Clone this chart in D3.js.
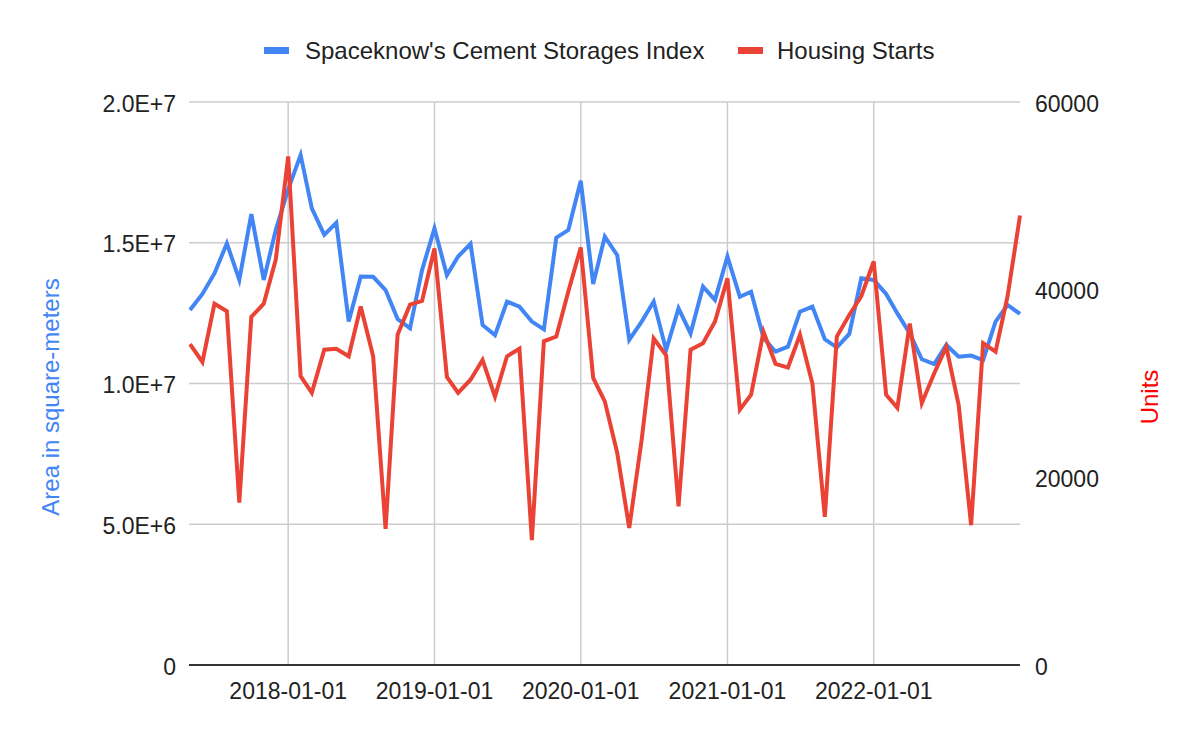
<!DOCTYPE html>
<html>
<head>
<meta charset="utf-8">
<script src="https://cdn.jsdelivr.net/npm/d3@7"></script>
<style>
  html, body { margin: 0; padding: 0; background: #fff; }
  svg { display: block; }
  text { font-family: Arial, "Liberation Sans", sans-serif; }
</style>
</head>
<body>
<svg id="chart" width="1200" height="742"></svg>
<script>
const months = [
  "2017-05","2017-06","2017-07","2017-08","2017-09","2017-10","2017-11","2017-12",
  "2018-01","2018-02","2018-03","2018-04","2018-05","2018-06","2018-07","2018-08","2018-09","2018-10","2018-11","2018-12",
  "2019-01","2019-02","2019-03","2019-04","2019-05","2019-06","2019-07","2019-08","2019-09","2019-10","2019-11","2019-12",
  "2020-01","2020-02","2020-03","2020-04","2020-05","2020-06","2020-07","2020-08","2020-09","2020-10","2020-11","2020-12",
  "2021-01","2021-02","2021-03","2021-04","2021-05","2021-06","2021-07","2021-08","2021-09","2021-10","2021-11","2021-12",
  "2022-01","2022-02","2022-03","2022-04","2022-05","2022-06","2022-07","2022-08","2022-09","2022-10","2022-11","2022-12",
  "2023-01"
];

const cementIndex = [
  12610000,13180000,13910000,14980000,13680000,16020000,13680000,15450000,
  16900000,18120000,16220000,15280000,15710000,12200000,13800000,13790000,13320000,12290000,11960000,14030000,
  15510000,13850000,14510000,14960000,12080000,11720000,12910000,12730000,12200000,11920000,15180000,15450000,
  17200000,13530000,15220000,14560000,11550000,12200000,12910000,11190000,12670000,11780000,13440000,12970000,
  14510000,13080000,13260000,11620000,11130000,11310000,12550000,12730000,11570000,11280000,11760000,13740000,
  13680000,13180000,12490000,11780000,10860000,10690000,11370000,10950000,10990000,10830000,12200000,12790000,
  12470000
];

const housingStarts = [
  34200,32300,38500,37700,17300,37100,38500,43200,
  54200,30800,29000,33600,33700,32900,38200,32900,14500,35200,38400,38800,
  44400,30700,29000,30400,32500,28600,32900,33700,13300,34500,35000,39800,
  44500,30600,28100,22600,14600,24000,34800,33000,16900,33600,34300,36600,
  41200,27200,28800,35500,32100,31700,35200,30000,15800,35000,37300,39300,
  43000,28800,27400,36400,27900,31100,33900,27700,14900,34300,33400,39300,
  47900
];

const leftTicks = [0, 5000000, 10000000, 15000000, 20000000];
const leftTickLabels = ["0", "5.0E+6", "1.0E+7", "1.5E+7", "2.0E+7"];
const rightTicks = [0, 20000, 40000, 60000];
const rightTickLabels = ["0", "20000", "40000", "60000"];
const xTickLabels = ["2018-01-01", "2019-01-01", "2020-01-01", "2021-01-01", "2022-01-01"];
const seriesNames = ["Spaceknow's Cement Storages Index", "Housing Starts"];
const leftTitle = "Area in square-meters";
const rightTitle = "Units";

const BLUE = "#4285F4", RED = "#EA4335";
const svg = d3.select("#chart");
const L = 190, R = 1020, T = 102, B = 665;

const parseMonth = d3.utcParse("%Y-%m");
const parseDay = d3.utcParse("%Y-%m-%d");
const dates = months.map(parseMonth);

const x = d3.scaleUtc().domain([dates[0], dates[dates.length - 1]]).range([L, R]);
const yL = d3.scaleLinear().domain([0, 20000000]).range([B, T]);
const yR = d3.scaleLinear().domain([0, 60000]).range([B, T]);

// horizontal gridlines
svg.append("g").selectAll("line").data(leftTicks.filter(d => d > 0)).join("line")
  .attr("x1", L - 1).attr("x2", R).attr("y1", d => yL(d)).attr("y2", d => yL(d))
  .attr("stroke", "#cccccc").attr("stroke-width", 1.5);

// vertical gridlines
const xTickDates = xTickLabels.map(parseDay);
svg.append("g").selectAll("line").data(xTickDates).join("line")
  .attr("x1", d => x(d)).attr("x2", d => x(d)).attr("y1", T).attr("y2", B)
  .attr("stroke", "#cccccc").attr("stroke-width", 1.5);

// baseline
svg.append("line").attr("x1", L - 1).attr("x2", R).attr("y1", yL(0)).attr("y2", yL(0))
  .attr("stroke", "#333333").attr("stroke-width", 2);

// lines
const lineL = d3.line().x((d, i) => x(dates[i])).y(d => yL(d));
const lineR = d3.line().x((d, i) => x(dates[i])).y(d => yR(d));
svg.append("path").datum(cementIndex).attr("d", lineL)
  .attr("fill", "none").attr("stroke", BLUE).attr("stroke-width", 4).attr("stroke-linejoin", "miter");
svg.append("path").datum(housingStarts).attr("d", lineR)
  .attr("fill", "none").attr("stroke", RED).attr("stroke-width", 4).attr("stroke-linejoin", "miter");

// left ticks labels
svg.append("g").selectAll("text").data(leftTicks).join("text")
  .attr("x", 176).attr("y", d => yL(d) + 9.5).attr("text-anchor", "end")
  .attr("font-size", 23).attr("fill", "#222").text((d, i) => leftTickLabels[i]);

// right tick labels
svg.append("g").selectAll("text").data(rightTicks).join("text")
  .attr("x", 1035).attr("y", d => yR(d) + 9.5).attr("text-anchor", "start")
  .attr("font-size", 23).attr("fill", "#222").text((d, i) => rightTickLabels[i]);

// x tick labels
svg.append("g").selectAll("text").data(xTickDates).join("text")
  .attr("x", d => x(d)).attr("y", 699).attr("text-anchor", "middle")
  .attr("font-size", 23).attr("fill", "#222").text((d, i) => xTickLabels[i]);

// axis titles
svg.append("text").attr("transform", "translate(59,397) rotate(-90)")
  .attr("text-anchor", "middle").attr("font-size", 24).attr("fill", BLUE).text(leftTitle);
svg.append("text").attr("transform", "translate(1158,397) rotate(-90)")
  .attr("text-anchor", "middle").attr("font-size", 24).attr("fill", "#FF0000").text(rightTitle);

// legend
const legend = [
  { name: seriesNames[0], color: BLUE, sx: 264, tx: 305 },
  { name: seriesNames[1], color: RED, sx: 738, tx: 777 }
];
const lg = svg.append("g");
lg.selectAll("rect").data(legend).join("rect")
  .attr("x", d => d.sx).attr("y", 47).attr("width", 25).attr("height", 7).attr("fill", d => d.color);
lg.selectAll("text").data(legend).join("text")
  .attr("x", d => d.tx).attr("y", 59).attr("font-size", 24).attr("fill", "#222").text(d => d.name);
</script>
</body>
</html>
